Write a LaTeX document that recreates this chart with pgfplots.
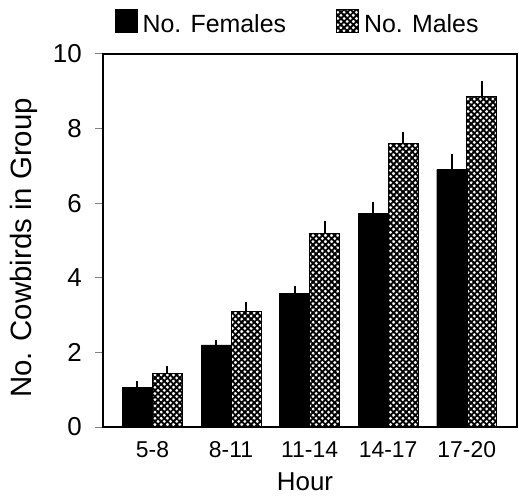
\documentclass[border=0pt]{standalone}
\usepackage{pgfplots}
\pgfplotsset{compat=1.18}
\usepackage{fontspec}
\setmainfont{Liberation Sans}
\usetikzlibrary{patterns.meta}

\tikzset{
  hatch/.style={fill=white,
    pattern={Lines[angle=45,distance=4.4pt,line width=1.9pt]},
    postaction={pattern={Lines[angle=-45,distance=4.4pt,line width=1.9pt]}}}
}

\begin{document}
\begin{tikzpicture}
\begin{axis}[
    width=414bp, height=373bp, scale only axis,
    clip=false,
    ybar=0pt, bar width=30bp,
    xmin=-0.63, xmax=4.64,
    ymin=0, ymax=10,
    axis line style={line width=1.2pt},
    xtick={0,1,2,3,4},
    xticklabels={5-8,8-11,11-14,14-17,17-20},
    x tick style={draw=none},
    ytick={0,2,4,6,8,10},
    ytick pos=left, xtick pos=bottom,
    y tick style={line width=1pt},
    tick align=outside, major tick length=8bp,
    /pgf/number format/assume math mode=true,
    yticklabel style={font=\fontsize{26}{30}\selectfont, inner sep=0pt, xshift=-13bp},
    xticklabel style={font=\fontsize{23}{27}\selectfont, anchor=base,
      inner sep=0pt, yshift=-22bp},
    xlabel={Hour}, ylabel={No. Cowbirds in Group},
    xlabel style={font=\fontsize{26}{30}\selectfont, inner sep=0pt,
      at={(axis description cs:0.488,-0.169)}, anchor=base},
    ylabel style={font=\fontsize{29.5}{33}\selectfont, inner sep=0pt,
      at={(axis description cs:-0.19,0.48)}, anchor=center},
    legend style={at={(axis description cs:0,1)}, anchor=south west,
      xshift=12bp, yshift=20bp, draw=none, inner sep=0pt,
      legend columns=2, font=\fontsize{25}{29}\selectfont,
      nodes={inner sep=0pt},
      /tikz/every odd column/.append style={column sep=5bp},
      /tikz/every even column/.append style={column sep=50bp}},
    legend image code/.code={\draw[#1] (0bp,-8bp) rectangle (22bp,15bp);},
    error bars/y dir=plus, error bars/y explicit,
    error bars/error mark=none,
    error bars/error bar style={line width=2pt, black},
]
\addplot[fill=black, draw=black] coordinates {
    (0,1.07) +- (0,0.15)
    (1,2.2)  +- (0,0.12)
    (2,3.58) +- (0,0.2)
    (3,5.72) +- (0,0.3)
    (4,6.9)  +- (0,0.42)
};
\addlegendentry{No. Females}
\addplot[hatch, draw=black, line width=1pt] coordinates {
    (0,1.43) +- (0,0.2)
    (1,3.1)  +- (0,0.25)
    (2,5.2)  +- (0,0.32)
    (3,7.6)  +- (0,0.32)
    (4,8.87) +- (0,0.4)
};
\addlegendentry{No. Males}
\end{axis}
\pgfresetboundingbox
\path[use as bounding box] ([shift={(-103bp,-75bp)}]current axis.south west)
  rectangle ([shift={(2bp,54bp)}]current axis.north east);
\end{tikzpicture}
\end{document}
